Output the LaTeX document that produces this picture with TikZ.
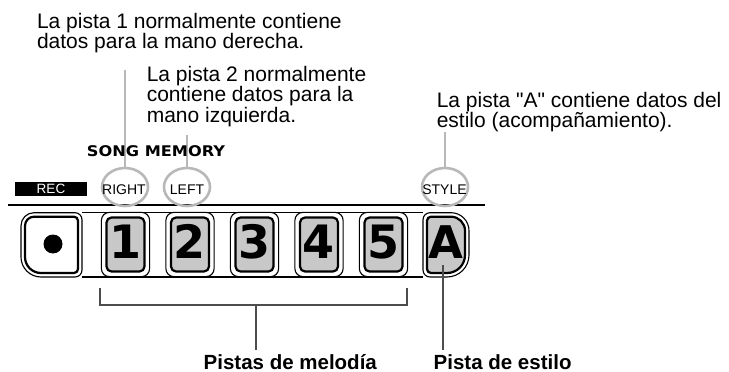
\documentclass[tikz,border=0pt]{standalone}
\usepackage{fontspec}
\setmainfont{Liberation Sans}
\newfontfamily\lsans{Liberation Sans}
\newfontfamily\dejavu{DejaVu Sans}
\usepackage{graphicx}
\usetikzlibrary{shapes.geometric,calc}
\definecolor{leadgray}{HTML}{B8B8B8}
\definecolor{btngray}{HTML}{C8C8C8}
\definecolor{linegray}{HTML}{4D4D4D}
\newcommand\btnpath[8]{(#1+#5,#2) -- (#3-#6,#2) arc[start angle=90,end angle=0,radius=#6pt] -- (#3,#4+#7) arc[start angle=0,end angle=-90,radius=#7pt] -- (#1+#8,#4) arc[start angle=270,end angle=180,radius=#8pt] -- (#1,#2-#5) arc[start angle=180,end angle=90,radius=#5pt] -- cycle}
\begin{document}
\begin{tikzpicture}[x=1pt,y=1pt,
  note/.style={anchor=north west, inner sep=0pt, align=left, font=\lsans\fontsize{21}{18.7}\selectfont},
  bottomlbl/.style={anchor=base west, inner sep=0pt, font=\fontsize{20.5}{24}\selectfont\bfseries},
  leader/.style={draw=leadgray, line width=2.8pt},
  ring/.style={ellipse, draw=leadgray, line width=2.6pt, minimum width=46pt, minimum height=38pt, inner sep=0pt},
  ringtxt/.style={anchor=base, inner sep=0pt, font=\fontsize{14}{16}\selectfont},
  btn/.style={rectangle, rounded corners=5pt, draw=black, line width=2.2pt, fill=btngray, minimum width=38pt, minimum height=54pt, inner sep=0pt, text height=33pt, text depth=6pt, font=\dejavu\bfseries\fontsize{46}{50}\selectfont},
  btnout/.style={draw=black, line width=1.1pt, rounded corners=8pt},
  btnedge/.style={draw=black, line width=1.1pt},
  btnedgein/.style={draw=black, line width=2.2pt},
  pointer/.style={draw=linegray, line width=1.8pt}
]
\useasboundingbox (0,0) rectangle (729,-372);

% explanatory texts
\node[note] (t1) at (36.8,-12.7) {La pista 1 normalmente contiene\\datos para la mano derecha.};
\node[note] (t2) at (146.6,-66) {La pista 2 normalmente\\contiene datos para la\\mano izquierda.};
\node[note] (t3) at (436.6,-91.7) {La pista "A" contiene datos del\\estilo (acompañamiento).};

% panel rule and REC label
\draw[line width=1.2pt] (8,-205) -- (485,-205);
\node[fill=black, minimum width=72pt, minimum height=14pt, inner sep=0pt, text=white, font=\fontsize{13.5}{15}\selectfont] (recbox) at (51,-189) {REC};

% rings and leaders
\node[ring] (eR) at (125,-187) {};
\node[ring] (eL) at (187,-187) {};
\node[ring] (eS) at (445,-187) {};
\coordinate (cR) at (125,-70);
\coordinate (cL) at (187,-135);
\coordinate (cS) at (445,-132);
\draw[leader] (cR) -- (eR.north);
\draw[leader] (cL) -- (eL.north);
\draw[leader] (cS) -- (eS.north);
\node[ringtxt] (tR) at (124,-194) {RIGHT};
\node[ringtxt] (tL) at (187,-194) {LEFT};
\node[ringtxt] (tS) at (444.5,-194) {STYLE};

\node[anchor=base, inner sep=0pt, font=\dejavu\bfseries\fontsize{14.7}{16}\selectfont] (song) at (156,-156.7) {\scalebox{1.1}[1]{SONG MEMORY}};

% bar
\draw[btnedge] (82,-212.7) -- (423,-212.7);
\draw[btnedge] (82,-277) -- (423,-277);

% REC button
\draw[btnedge, fill=white] \btnpath{21}{-212.7}{82}{-277}{13}{7}{7}{20};
\draw[btnedgein] \btnpath{25}{-216.7}{78}{-273}{9}{4}{4}{16};
\node[circle, fill=black, minimum size=19pt, inner sep=0pt] (dot) at (53,-244) {};

% track buttons
\foreach \n [count=\i from 0] in {1,...,5} {
  \node[btn] (b\n) at (125.5+64.5*\i,-244.5) {\n};
  \draw[btnout] ($(b\n.south west)+(-4,-4)$) rectangle ($(b\n.north east)+(4,4)$);
}

% A button
\draw[btnedge, fill=white] \btnpath{423}{-212.7}{469}{-277}{7}{18}{22}{7};
\draw[btnedgein, fill=btngray] \btnpath{427}{-216.7}{465}{-273}{4}{14}{18}{4};
\node[inner sep=0pt, text height=33pt, text depth=6pt, font=\dejavu\bfseries\fontsize{45}{50}\selectfont] (bA) at (446,-244.5) {A};

% pointers
\coordinate (brL) at (100,-288);
\coordinate (brR) at (407,-288);
\coordinate (brM) at (256,-305);
\coordinate (melEnd) at (256,-350);
\coordinate (aTop) at (443,-265);
\coordinate (estEnd) at (443,-350);
\draw[pointer] (brL) -- ++(0,-17) -| (brR);
\draw[pointer] (brM) -- (melEnd);
\draw[pointer] (aTop) -- (estEnd);

\node[bottomlbl] (mel) at (203.5,-369) {Pistas de melodía};
\node[bottomlbl] (est) at (433.5,-369) {Pista de estilo};
\end{tikzpicture}
\end{document}
